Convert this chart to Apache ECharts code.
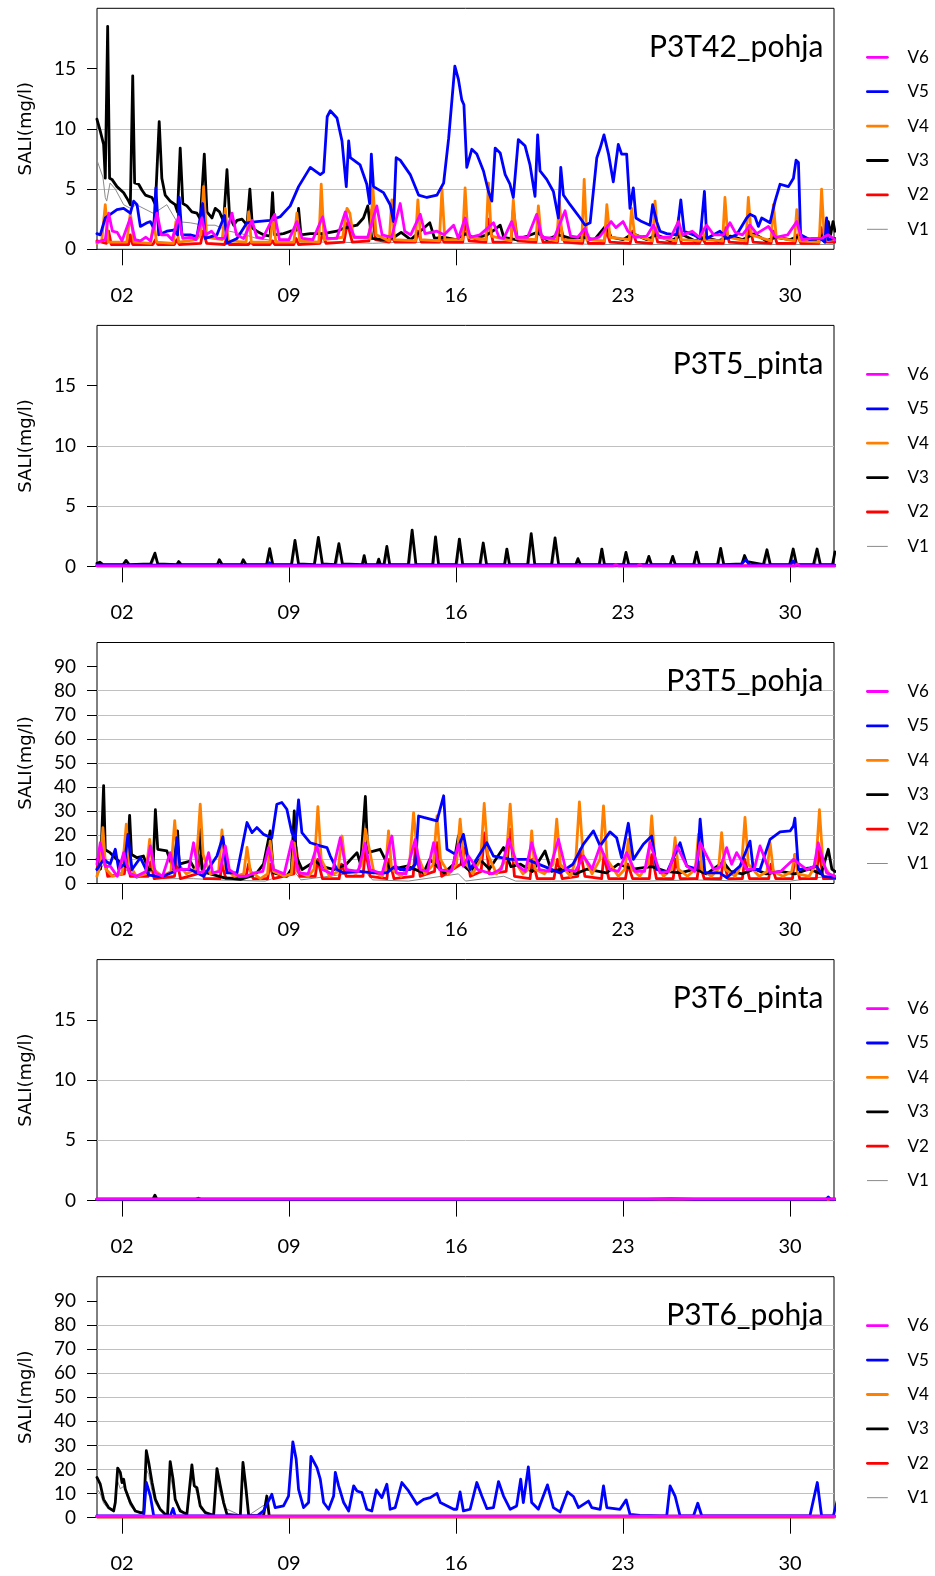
<!DOCTYPE html>
<html><head><meta charset="utf-8">
<script src="https://cdn.jsdelivr.net/npm/echarts@6/dist/echarts.min.js"></script>
<style>html,body{margin:0;padding:0;background:#fff}#c{width:935px;height:1576px}</style>
</head><body><div id="c"></div>
<script>
// ---------- labels / ticks ----------
const panelTitles = ['P3T42_pohja','P3T5_pinta','P3T5_pohja','P3T6_pinta','P3T6_pohja'];
const seriesNames = ['V1','V2','V3','V4','V5','V6'];
const legendOrder = ['V6','V5','V4','V3','V2','V1'];
const xTickDays = [2,9,16,23,30];
const yTicksSmall = [0,5,10,15];
const yTicksLarge = [0,10,20,30,40,50,60,70,80,90];
const yAxisTitle = 'SALI(mg/l)';

// ---------- panel 1: P3T42_pohja ----------
const p1V1 = [[0.95,7.4],[1.2,6.0],[1.3,4.3],[1.36,4.0],[1.5,5.5],[1.72,5.0],[2.07,3.7],[2.35,3.4],[2.6,3.7],[3.3,3.0],[3.5,3.2],[3.88,3.7],[4.3,2.3],[4.86,2.2],[5.4,2.0],[5.9,2.0],[6.5,1.5],[7.0,1.3],[7.65,0.9],[8.5,0.7],[9.5,0.6],[11,0.6],[12.5,0.5],[14,0.6],[16,0.5],[18,0.5],[20,0.5],[22,0.4],[24,0.4],[26,0.4],[28,0.4],[30,0.4],[31.9,0.4]];
const p1V2 = [[0.95,0.7],[1.35,0.5],[1.44,1.5],[1.55,0.4],[2.28,0.4],[2.35,1.2],[2.45,0.4],[3.3,0.4],[3.4,0.8],[3.5,0.4],[4.2,0.4],[4.3,0.8],[4.4,0.4],[5.3,0.5],[5.4,1.5],[5.55,0.5],[6.3,0.4],[6.4,1.0],[6.5,0.4],[7.3,0.4],[7.4,0.6],[7.5,0.4],[8.2,0.4],[8.3,0.7],[8.4,0.4],[9.2,0.4],[9.3,0.9],[9.4,0.4],[10.3,0.5],[10.4,1.3],[10.55,0.5],[11.3,0.6],[11.45,2.2],[11.65,0.6],[12.35,0.7],[12.47,3.3],[12.62,0.8],[13.2,0.6],[13.3,1.0],[13.45,0.6],[14.3,0.6],[14.4,1.5],[14.55,0.6],[15.3,0.6],[15.4,1.0],[15.5,0.6],[16.28,0.6],[16.38,2.3],[16.55,0.7],[17.25,0.6],[17.36,2.5],[17.55,0.6],[18.3,0.6],[18.4,3.3],[18.58,0.7],[19.35,0.6],[19.45,2.0],[19.65,0.6],[20.25,0.6],[20.35,2.2],[20.55,0.6],[21.3,0.5],[21.4,1.5],[21.55,0.5],[22.2,0.5],[22.3,1.6],[22.45,0.6],[23.3,0.5],[23.4,1.5],[23.55,0.6],[24.2,0.5],[24.3,1.8],[24.45,0.6],[25.2,0.5],[25.3,1.5],[25.45,0.5],[26.2,0.5],[26.3,1.0],[26.45,0.5],[27.2,0.5],[27.3,1.8],[27.45,0.6],[28.2,0.5],[28.3,2.0],[28.45,0.6],[29.2,0.5],[29.3,1.5],[29.45,0.5],[30.2,0.5],[30.3,1.2],[30.45,0.5],[31.2,0.5],[31.3,1.8],[31.45,0.6],[31.88,0.6]];
const p1V3 = [[0.95,10.8],[1.09,9.8],[1.23,8.7],[1.30,5.9],[1.40,18.5],[1.48,5.9],[1.58,5.8],[1.79,5.2],[2.07,4.7],[2.28,4.0],[2.35,3.7],[2.45,14.4],[2.53,5.5],[2.70,5.4],[2.84,4.9],[2.98,4.5],[3.26,4.3],[3.40,3.7],[3.56,10.6],[3.67,5.9],[3.81,4.5],[4.02,4.0],[4.23,3.7],[4.33,3.1],[4.44,8.4],[4.55,3.8],[4.72,3.6],[4.93,3.1],[5.14,3.0],[5.28,2.5],[5.45,7.9],[5.56,3.1],[5.77,2.6],[5.91,3.4],[6.09,3.1],[6.26,2.3],[6.40,6.6],[6.51,2.7],[6.68,2.0],[6.82,2.4],[7.03,2.5],[7.24,2.0],[7.36,5.0],[7.47,1.75],[7.65,1.5],[7.93,1.2],[8.21,1.1],[8.31,4.7],[8.40,1.2],[8.77,1.3],[9.05,1.5],[9.33,1.6],[9.40,3.4],[9.50,1.2],[9.89,1.3],[10.45,1.3],[11.0,1.5],[11.3,1.75],[11.85,2.0],[12.12,2.6],[12.30,3.6],[12.47,0.9],[12.96,0.8],[13.4,1.0],[13.7,1.4],[14.1,0.8],[14.5,1.5],[14.9,2.2],[15.1,0.9],[15.5,1.0],[16.0,0.8],[16.4,1.3],[16.8,0.9],[17.3,1.2],[17.6,1.6],[17.85,2.0],[18.0,1.0],[18.5,0.8],[19.0,1.1],[19.4,1.4],[19.8,0.8],[20.3,1.2],[20.8,0.9],[21.3,1.0],[21.8,0.8],[22.3,2.0],[22.5,1.0],[23.0,0.8],[23.4,1.3],[24.0,0.8],[24.4,1.2],[25.0,0.7],[25.5,1.2],[26.0,0.7],[26.4,1.0],[27.0,0.7],[27.5,1.1],[28.0,0.8],[28.5,1.3],[29.0,0.7],[29.4,1.0],[30.0,0.8],[30.4,1.1],[31.0,0.7],[31.4,1.2],[31.6,2.3],[31.7,1.2],[31.8,2.3],[31.88,1.5]];
const p1V4 = [[0.95,0.5],[1.15,0.7],[1.30,3.7],[1.42,0.6],[2.2,0.6],[2.35,3.0],[2.5,0.6],[3.2,0.5],[3.33,2.3],[3.45,0.6],[4.15,0.5],[4.26,2.3],[4.38,0.6],[5.1,0.8],[5.3,1.2],[5.42,5.2],[5.55,1.0],[6.2,0.8],[6.33,3.4],[6.45,0.7],[7.2,0.6],[7.31,3.1],[7.42,0.6],[8.2,0.6],[8.33,2.6],[8.45,0.6],[9.2,0.6],[9.33,3.0],[9.45,0.7],[10.25,0.6],[10.35,5.4],[10.47,0.8],[11.25,1.0],[11.43,3.4],[11.55,3.0],[11.7,1.0],[12.4,0.9],[12.52,5.0],[12.65,1.2],[13.2,0.7],[13.31,4.1],[13.42,0.8],[14.3,0.7],[14.4,4.1],[14.52,0.8],[15.3,0.7],[15.41,5.0],[15.53,0.8],[16.27,0.8],[16.38,5.1],[16.5,1.0],[17.25,0.8],[17.36,5.5],[17.48,1.1],[18.3,0.7],[18.4,4.1],[18.52,0.9],[19.35,0.8],[19.45,3.6],[19.57,1.0],[20.22,0.7],[20.33,4.0],[20.45,0.8],[21.27,0.7],[21.37,5.8],[21.48,0.8],[22.22,0.7],[22.32,3.7],[22.45,1.0],[23.26,0.8],[23.36,3.4],[23.48,1.2],[24.24,0.7],[24.34,4.0],[24.46,1.0],[25.22,0.7],[25.32,2.6],[25.44,0.8],[26.2,0.7],[26.3,1.9],[26.42,0.8],[27.17,0.7],[27.27,4.3],[27.39,1.0],[28.15,0.7],[28.25,4.3],[28.37,1.2],[29.2,0.7],[29.3,3.7],[29.42,1.0],[30.18,0.7],[30.28,3.3],[30.4,0.7],[31.22,0.6],[31.32,5.0],[31.44,0.7],[31.88,0.8]];
const p1V5 = [[0.95,1.3],[1.09,1.2],[1.30,2.6],[1.51,2.9],[1.79,3.3],[2.07,3.4],[2.35,3.0],[2.49,4.0],[2.63,3.7],[2.77,1.9],[3.05,2.2],[3.19,2.3],[3.33,1.75],[3.42,5.1],[3.54,1.2],[3.88,1.5],[4.16,1.6],[4.33,1.2],[4.40,4.3],[4.51,1.2],[4.86,1.2],[5.14,1.05],[5.38,3.8],[5.49,0.9],[5.98,1.2],[6.30,2.8],[6.40,0.5],[6.82,0.9],[7.24,2.2],[7.65,2.3],[8.21,2.4],[8.63,2.7],[9.05,3.6],[9.40,5.2],[9.89,6.8],[10.31,6.2],[10.45,6.4],[10.6,11.0],[10.73,11.5],[11.01,10.9],[11.22,9.0],[11.40,5.2],[11.50,9.0],[11.57,7.6],[11.98,7.0],[12.26,5.4],[12.38,3.8],[12.45,7.9],[12.54,5.2],[12.96,4.7],[13.24,3.7],[13.38,2.3],[13.49,7.6],[13.66,7.4],[14.08,6.2],[14.43,4.5],[14.78,4.3],[15.2,4.5],[15.48,5.5],[15.69,9.2],[15.95,15.2],[16.1,14.1],[16.24,12.4],[16.33,12.0],[16.45,6.8],[16.66,8.3],[16.87,7.9],[17.15,6.5],[17.36,4.8],[17.5,4.0],[17.64,8.4],[17.85,8.0],[18.06,6.2],[18.26,5.4],[18.4,4.3],[18.61,9.1],[18.89,8.6],[19.1,7.0],[19.31,4.4],[19.42,9.5],[19.52,6.5],[19.8,5.8],[20.08,4.8],[20.29,2.6],[20.39,6.8],[20.5,4.5],[20.78,3.7],[21.2,2.6],[21.41,2.0],[21.62,2.2],[21.9,7.6],[22.04,8.4],[22.2,9.5],[22.39,7.9],[22.59,5.6],[22.8,8.7],[22.94,7.9],[23.15,7.9],[23.29,3.4],[23.43,5.1],[23.54,2.6],[23.78,2.3],[24.13,2.0],[24.24,3.7],[24.41,2.3],[24.55,1.5],[24.83,1.3],[25.25,1.2],[25.42,4.1],[25.56,1.5],[25.95,1.2],[26.23,0.9],[26.41,4.8],[26.51,0.9],[27.06,1.5],[27.34,0.9],[27.76,1.2],[28.18,2.6],[28.32,2.9],[28.53,2.7],[28.67,1.9],[28.81,2.6],[29.16,2.2],[29.37,4.0],[29.58,5.4],[29.93,5.2],[30.14,5.9],[30.25,7.4],[30.35,7.2],[30.44,1.2],[30.83,0.8],[31.25,0.9],[31.46,0.6],[31.53,2.6],[31.6,0.8],[31.88,0.9]];
const p1V6 = [[0.95,0.6],[1.3,0.8],[1.44,3.0],[1.6,1.5],[1.8,1.4],[2.0,0.7],[2.35,2.6],[2.55,0.8],[2.77,0.7],[3.0,1.0],[3.2,0.7],[3.47,3.0],[3.65,1.2],[3.9,1.2],[4.1,0.8],[4.37,2.7],[4.55,0.9],[4.9,1.0],[5.1,0.8],[5.35,2.6],[5.5,1.2],[5.75,1.5],[6.0,0.9],[6.3,0.9],[6.61,3.0],[6.8,1.2],[7.1,0.9],[7.45,2.4],[7.65,1.0],[7.9,0.9],[8.4,2.9],[8.6,0.8],[9.0,0.8],[9.33,2.3],[9.55,0.9],[10.0,0.8],[10.41,2.7],[10.6,0.9],[11.0,0.9],[11.36,3.1],[11.55,1.9],[11.75,1.0],[12.3,1.0],[12.68,3.6],[12.9,1.2],[13.3,1.0],[13.66,3.8],[13.85,1.5],[14.1,1.2],[14.5,2.9],[14.7,1.3],[15.2,1.5],[15.5,1.2],[15.9,2.0],[16.1,0.9],[16.38,2.6],[16.6,1.0],[17.0,1.2],[17.57,2.2],[17.8,1.0],[18.0,0.9],[18.33,2.3],[18.55,1.0],[19.0,1.0],[19.38,2.9],[19.6,1.0],[20.1,0.9],[20.57,3.2],[20.8,1.1],[21.1,1.0],[21.41,1.75],[21.6,0.8],[22.0,1.0],[22.5,2.3],[22.7,1.8],[23.0,2.3],[23.2,1.5],[23.5,1.0],[24.0,1.1],[24.27,2.0],[24.5,1.0],[25.0,1.0],[25.32,2.3],[25.5,1.2],[25.9,1.5],[26.2,1.0],[26.5,2.0],[26.8,1.2],[27.2,1.2],[27.48,2.2],[27.7,1.4],[28.0,1.2],[28.32,2.0],[28.6,1.3],[29.09,1.9],[29.4,1.0],[29.9,1.2],[30.28,2.3],[30.5,0.8],[30.9,0.9],[31.3,0.9],[31.6,1.2],[31.88,0.8]];

// ---------- panel 2: P3T5_pinta ----------
const p2V1 = [[0.95,0.1],[3.25,0.1],[3.41,0.9],[3.55,0.1],[8.1,0.1],[8.22,1.2],[8.33,0.1],[9.15,0.1],[9.28,1.9],[9.4,0.1],[10.1,0.1],[10.26,2.1],[10.4,0.1],[11.0,0.1],[11.12,1.6],[11.25,0.1],[13.03,0.1],[13.13,1.4],[13.23,0.1],[14.06,0.1],[14.19,2.6],[14.32,0.1],[15.07,0.1],[15.17,2.1],[15.28,0.1],[16.06,0.1],[16.17,2.0],[16.29,0.1],[17.06,0.1],[17.17,1.7],[17.29,0.1],[18.07,0.1],[18.16,1.2],[18.25,0.1],[19.06,0.1],[19.18,2.4],[19.3,0.1],[20.06,0.1],[20.18,2.0],[20.3,0.1],[22.05,0.1],[22.14,1.2],[22.23,0.1],[23.06,0.1],[23.15,1.0],[23.25,0.1],[26.02,0.1],[26.11,1.0],[26.2,0.1],[27.02,0.1],[27.12,1.3],[27.22,0.1],[28.95,0.1],[29.06,1.2],[29.17,0.1],[30.05,0.1],[30.16,1.25],[30.28,0.1],[31.05,0.1],[31.16,1.25],[31.28,0.1],[31.88,0.1]];
const p2V2 = [[0.95,0.05],[31.88,0.05]];
const p2V3 = [[0.95,0.25],[1.07,0.35],[1.2,0.15],[2.05,0.15],[2.17,0.5],[2.3,0.15],[3.2,0.2],[3.38,1.1],[3.5,0.2],[4.3,0.15],[4.38,0.4],[4.48,0.15],[5.1,0.15],[5.18,0.3],[5.28,0.15],[6.0,0.15],[6.08,0.55],[6.2,0.15],[7.0,0.15],[7.08,0.55],[7.2,0.15],[8.06,0.15],[8.19,1.47],[8.32,0.15],[9.1,0.15],[9.25,2.16],[9.4,0.2],[10.06,0.15],[10.23,2.41],[10.4,0.2],[10.93,0.15],[11.09,1.88],[11.24,0.2],[12.07,0.15],[12.15,0.9],[12.23,0.15],[12.69,0.15],[12.76,0.6],[12.83,0.15],[12.98,0.15],[13.1,1.66],[13.22,0.15],[14.0,0.15],[14.16,3.0],[14.32,0.15],[15.02,0.15],[15.14,2.44],[15.27,0.15],[16.0,0.15],[16.14,2.27],[16.28,0.15],[17.0,0.15],[17.14,1.94],[17.28,0.15],[18.03,0.15],[18.13,1.44],[18.24,0.15],[19.0,0.15],[19.15,2.72],[19.3,0.15],[20.0,0.15],[20.15,2.36],[20.3,0.15],[21.02,0.15],[21.11,0.64],[21.21,0.15],[22.0,0.15],[22.11,1.44],[22.22,0.15],[23.01,0.15],[23.12,1.16],[23.24,0.15],[23.97,0.15],[24.08,0.83],[24.19,0.15],[24.97,0.15],[25.08,0.83],[25.19,0.15],[25.96,0.15],[26.08,1.19],[26.2,0.15],[26.96,0.15],[27.09,1.5],[27.22,0.15],[27.98,0.2],[28.09,0.9],[28.2,0.4],[28.88,0.15],[29.03,1.38],[29.17,0.15],[29.98,0.15],[30.13,1.44],[30.27,0.15],[30.98,0.15],[31.13,1.44],[31.27,0.15],[31.78,0.15],[31.88,1.2]];
const p2V4 = [[0.95,0.05],[14.2,0.05],[14.3,0.1],[14.4,0.05],[31.88,0.05]];
const p2V5 = [[0.95,0.1],[6.0,0.1],[6.08,0.25],[6.2,0.1],[8.1,0.1],[8.19,0.3],[8.3,0.1],[27.9,0.1],[28.15,0.55],[28.3,0.1],[30.0,0.1],[30.13,0.45],[30.25,0.1],[31.88,0.1]];
const p2V6 = [[0.95,0.05],[22.6,0.05],[22.7,0.15],[22.8,0.05],[23.6,0.05],[23.7,0.15],[23.8,0.05],[30.2,0.05],[30.3,0.2],[30.4,0.05],[31.88,0.05]];

// ---------- panel 3: P3T5_pohja ----------
const p3V1 = [[0.95,3],[1.23,8],[1.5,3],[2.32,6],[2.6,2],[3.4,6],[3.7,2],[5,2],[6,1.5],[8,1],[9.22,5],[9.5,1.5],[12.2,5],[12.5,1.5],[14,1],[16.1,4],[16.4,1],[18,3],[18.5,1],[20,1],[22,1],[24,1],[26,1.5],[28,1],[30,1],[31.6,3],[31.88,1]];
const p3V2 = [[0.95,6],[1.2,15],[1.4,3],[2.1,4],[2.2,12],[2.35,3],[3.1,3],[3.2,9],[3.35,2],[4.2,3],[4.3,10],[4.45,2],[5.15,4],[5.3,12],[5.45,2],[6.1,2],[6.2,8],[6.35,2],[7.2,3],[7.3,8],[7.5,2],[8.1,2],[8.2,8],[8.35,2],[9.2,4],[9.3,15],[9.45,3],[10.1,3],[10.2,10],[10.4,2],[11.1,2],[11.2,8],[11.4,3],[12.1,3],[12.2,14],[12.4,3],[13.1,2],[13.2,10],[13.4,2],[14.2,3],[14.3,15],[14.5,3],[15.1,5],[15.2,17],[15.4,3],[16.2,8],[16.4,15],[16.6,3],[17.05,5],[17.2,21],[17.4,4],[18.1,5],[18.27,22.5],[18.45,3],[19.1,2],[19.2,10],[19.4,2],[20.1,2],[20.25,10],[20.45,2],[21.1,3],[21.2,14],[21.4,3],[22.1,2],[22.2,12],[22.4,2],[23.1,2],[23.2,8],[23.4,2],[24.1,2],[24.2,12],[24.4,2],[25.1,2],[25.2,10],[25.4,2],[26.1,2],[26.2,9],[26.4,2],[27.1,2],[27.2,10],[27.4,2],[28.0,2],[28.1,10],[28.3,2],[29.1,2],[29.2,8],[29.4,2],[30.1,2],[30.2,12],[30.4,2],[31.1,2],[31.2,14],[31.4,2],[31.88,2]];
const p3V3 = [[0.95,10],[1.1,6],[1.23,40.6],[1.3,14],[1.5,12.8],[1.79,10],[2.0,8],[2.2,7],[2.32,28.3],[2.4,12],[2.63,10.7],[2.9,11.4],[3.1,5.8],[3.3,6],[3.4,30.6],[3.5,14.2],[3.88,13.5],[4.16,5.8],[4.33,21.8],[4.4,8],[4.86,9.3],[5.1,5],[5.25,22.8],[5.35,6],[5.56,4.4],[6.26,2.4],[6.96,1.7],[7.4,3],[7.65,4.4],[7.93,8],[8.21,21.8],[8.35,4.4],[8.91,3],[9.1,6],[9.22,30.1],[9.3,11.4],[9.55,5.8],[10.1,9.3],[10.4,7],[10.9,5.8],[11.4,8],[11.85,12.8],[12.0,8],[12.2,36.1],[12.3,12.8],[12.82,14.2],[13.24,5.8],[13.94,7.2],[14.64,4.4],[14.9,10],[15.5,4.4],[15.9,8],[16.1,19.7],[16.25,8],[16.6,5],[17.0,10],[17.4,6],[17.99,14.9],[18.3,7],[18.7,8],[19.2,5],[19.73,13.5],[20.0,5],[20.4,6],[21.0,4],[21.5,6],[22.3,4.4],[22.8,8],[23.4,6],[24.2,7],[24.8,5],[25.4,4.4],[26.0,6],[26.5,4],[27.2,9],[27.5,5],[28.0,4],[28.5,6],[29.0,4],[29.6,5],[30.2,4],[30.8,6],[31.3,4],[31.6,14.2],[31.75,6],[31.88,5]];
const p3V4 = [[0.95,3],[1.1,8],[1.2,23.2],[1.32,6],[1.6,3],[2.0,4],[2.18,24.6],[2.3,8],[2.6,3],[3.0,4],[3.16,18.3],[3.3,6],[3.7,3],[4.05,5],[4.21,26.1],[4.35,8],[4.7,4],[5.1,6],[5.28,32.9],[5.4,12],[5.7,4],[6.05,5],[6.19,22.2],[6.33,6],[6.7,3],[7.1,4],[7.24,15],[7.38,5],[7.8,2],[8.1,4],[8.21,17.6],[8.35,5],[8.8,3],[9.1,4],[9.22,16.9],[9.35,5],[9.8,3],[10.05,6],[10.21,31.9],[10.35,10],[10.7,3],[11.05,5],[11.22,19.7],[11.38,6],[11.8,4],[12.05,8],[12.2,22.5],[12.35,15],[12.55,5],[12.9,3],[13.05,6],[13.17,21.8],[13.3,6],[13.7,3],[14.05,8],[14.22,29.4],[14.38,12],[14.7,4],[15.05,8],[15.2,28],[15.35,10],[15.7,4],[16.02,8],[16.17,26.7],[16.32,10],[16.7,4],[17.03,10],[17.18,33.2],[17.33,12],[17.7,4],[18.1,10],[18.27,32.9],[18.42,10],[18.8,4],[19.05,6],[19.17,21.8],[19.3,6],[19.7,4],[20.07,8],[20.22,26.7],[20.37,8],[20.8,3],[21.02,10],[21.17,33.9],[21.32,12],[21.7,4],[22.03,10],[22.18,32.2],[22.33,10],[22.8,3],[23.08,6],[23.22,18.3],[23.36,6],[23.7,3],[24.05,8],[24.2,28],[24.35,8],[24.7,3],[25.05,6],[25.18,19],[25.32,6],[25.7,3],[26.03,6],[26.16,20.4],[26.3,6],[26.7,3],[27.0,6],[27.13,21.1],[27.27,6],[27.7,3],[27.97,8],[28.11,27.4],[28.25,8],[28.7,3],[29.03,5],[29.16,16.9],[29.3,5],[29.7,3],[30.07,5],[30.2,12],[30.33,4],[30.8,3],[31.08,8],[31.23,30.6],[31.38,8],[31.7,3],[31.88,3]];
const p3V5 = [[0.95,5.8],[1.23,10],[1.5,8],[1.72,14.2],[1.86,6],[2.1,8],[2.25,20.4],[2.42,5.8],[2.77,10.7],[3.12,3.5],[3.67,2.8],[4.2,5],[4.3,19],[4.44,5.8],[4.86,5.8],[5.42,3],[5.98,11.4],[6.23,19.4],[6.4,4.4],[6.82,4.4],[7.24,25.3],[7.45,21.1],[7.65,23.2],[7.93,20.4],[8.28,19],[8.49,32.9],[8.7,33.6],[8.91,30.8],[9.12,21.1],[9.26,18.3],[9.4,34.7],[9.54,21.1],[9.89,16.9],[10.31,15.6],[10.59,14.9],[10.73,11.4],[11.01,5.8],[11.29,4.4],[11.85,5.1],[12.54,4.4],[13.1,4.4],[13.45,7.2],[13.66,5.8],[14.08,5.8],[14.3,8],[14.43,28],[14.64,27.4],[15.2,26],[15.48,36.4],[15.62,14.2],[15.98,12.1],[16.31,20.4],[16.59,5.8],[17.29,16.9],[17.57,11.4],[18.27,10],[18.96,10],[19.66,7.2],[20.36,4.4],[20.9,8],[21.34,16.3],[21.76,21.8],[22.04,15.6],[22.45,21.4],[22.73,19],[22.94,10.7],[23.22,25],[23.43,10],[23.85,16.3],[24.2,19.7],[24.41,5.8],[24.83,4.4],[25.39,16.9],[25.67,7.2],[26.1,6],[26.23,26.7],[26.43,4.4],[27.06,4.4],[27.34,2.4],[27.9,7.2],[28.32,17.6],[28.46,5.8],[28.74,5.8],[29.16,18.3],[29.58,21.4],[30.0,21.8],[30.14,23.9],[30.2,27.1],[30.35,5.8],[30.83,6.5],[31.11,7.2],[31.39,3],[31.88,2.4]];
const p3V6 = [[0.95,8],[1.09,16.9],[1.3,7],[1.51,7.2],[1.8,3],[2.07,12.8],[2.3,4.4],[2.6,3],[3.0,5],[3.19,15.6],[3.4,4.4],[3.7,3],[4.02,12.8],[4.2,5],[4.44,5.8],[4.8,6],[5.0,16.9],[5.2,4.4],[5.42,5],[5.63,12.8],[5.8,4.4],[6.1,5],[6.33,15.6],[6.5,5.8],[6.9,3],[7.2,3],[7.55,4.4],[7.9,5],[8.14,14.9],[8.35,5.8],[8.8,4],[9.12,17.6],[9.4,4.4],[9.8,4],[10.17,15.6],[10.4,5.8],[10.8,4],[11.15,19],[11.4,5.8],[11.9,5],[12.19,16.7],[12.4,5.8],[12.9,4],[13.31,19.7],[13.5,4.4],[13.9,4],[14.29,18.3],[14.5,5.8],[14.8,5],[15.06,16.9],[15.3,5.8],[15.8,5],[16.1,16.3],[16.3,7.2],[16.52,11.4],[16.9,5.8],[17.5,4],[17.9,6],[18.2,18.3],[18.6,7.2],[18.9,5],[19.17,16.9],[19.5,5.8],[19.9,5],[20.29,18.3],[20.6,5.8],[21.0,5],[21.34,11.4],[21.7,6],[22.04,15.6],[22.45,5.8],[22.8,5],[23.15,12.8],[23.5,5],[23.9,5],[24.13,16.9],[24.55,4.4],[24.9,5],[25.25,15.6],[25.67,7.2],[26.0,5],[26.23,16.9],[26.8,5.8],[27.1,7],[27.34,14.9],[27.55,8],[27.76,12.8],[28.18,5.8],[28.5,6],[28.74,15.6],[29.16,4.4],[29.6,5],[30.14,10],[30.7,5.8],[31.0,7],[31.18,16.9],[31.53,4.4],[31.88,3]];

// ---------- panel 4: P3T6_pinta ----------
const p4V1 = [[0.95,0.1],[31.88,0.1]];
const p4V2 = [[0.95,0.1],[31.88,0.1]];
const p4V3 = [[0.95,0.12],[3.3,0.12],[3.38,0.45],[3.46,0.12],[5.1,0.12],[5.2,0.2],[5.3,0.12],[8.15,0.12],[8.22,0.25],[8.3,0.12],[31.88,0.12]];
const p4V4 = [[0.95,0.1],[31.88,0.1]];
const p4V5 = [[0.95,0.1],[24.0,0.1],[25.0,0.15],[26.0,0.1],[31.5,0.1],[31.6,0.3],[31.7,0.1],[31.88,0.1]];
const p4V6 = [[0.95,0.15],[31.88,0.15]];

// ---------- panel 5: P3T6_pohja ----------
const p5V1 = [[0.95,12],[1.09,10],[1.23,6],[1.44,3.5],[1.65,2.5],[1.82,15],[1.93,12],[2.07,13],[2.21,9],[2.35,5],[2.56,2.5],[2.91,2],[3.02,20],[3.12,18],[3.26,11],[3.4,6],[3.6,3],[3.91,1.2],[4.02,18],[4.14,12],[4.3,5],[4.72,1.2],[4.93,17],[5.14,10],[5.3,3.5],[5.84,1.0],[5.98,16],[6.12,10],[6.3,4],[6.96,1.0],[7.07,18],[7.2,10],[7.31,1.0],[8.07,6],[8.2,0.6],[31.88,0.5]];
const p5V2 = [[0.95,0.4],[31.88,0.4]];
const p5V3 = [[0.95,16.7],[1.09,13.9],[1.23,7.6],[1.44,4.2],[1.65,2.8],[1.72,6.3],[1.82,20.6],[1.93,18.8],[2.0,14.6],[2.07,16],[2.14,11.8],[2.21,11.8],[2.35,6.3],[2.56,2.8],[2.77,2.1],[2.91,2.1],[3.02,27.8],[3.12,22.9],[3.26,14.6],[3.4,7.6],[3.6,3.5],[3.81,1.4],[3.91,1.4],[4.02,23.3],[4.14,16],[4.23,7.6],[4.44,2.8],[4.72,1.4],[4.93,21.9],[5.03,13.2],[5.14,12.5],[5.28,4.9],[5.49,2.1],[5.84,1.0],[5.98,20.4],[6.12,13.2],[6.26,6.3],[6.4,1.4],[6.82,1.0],[6.96,1.0],[7.07,22.9],[7.17,14.6],[7.31,1.0],[7.93,0.7],[8.07,9],[8.17,0.7],[8.3,0.6],[31.88,0.6]];
const p5V4 = [[0.95,0.4],[31.88,0.4]];
const p5V5 = [[0.95,0.7],[2.91,0.7],[3.02,14.6],[3.19,9],[3.33,0.7],[4.02,0.7],[4.14,3.8],[4.23,0.7],[7.65,0.7],[7.93,2.8],[8.28,9.7],[8.42,4.2],[8.77,4.9],[8.98,9],[9.16,31.5],[9.3,24.3],[9.4,11.8],[9.61,4.2],[9.82,6.3],[9.92,25.4],[10.17,20.8],[10.31,16],[10.45,6.3],[10.66,3.5],[10.87,9],[10.94,18.8],[11.08,13.2],[11.29,6.3],[11.5,2.8],[11.71,13.2],[11.85,11.1],[12.05,10.4],[12.26,3.5],[12.47,2.8],[12.66,11.5],[12.89,8.3],[13.1,13.9],[13.24,3.5],[13.45,4.2],[13.73,14.6],[14.01,11.1],[14.36,5.6],[14.64,7.6],[14.92,8.3],[15.2,10.1],[15.34,6.3],[15.9,3.5],[16.03,3.5],[16.17,10.7],[16.31,2.8],[16.59,3.5],[16.87,14.6],[17.08,9],[17.29,3.8],[17.57,4.2],[17.78,15],[17.99,9],[18.27,3.5],[18.54,4.9],[18.71,16],[18.82,6.3],[19.03,21.1],[19.17,6.3],[19.45,3.5],[19.83,13.6],[20.08,4.2],[20.36,2.4],[20.67,10.7],[20.92,8.8],[21.13,4.2],[21.55,6.9],[21.69,4.2],[22.04,3.5],[22.18,13.2],[22.32,4.2],[22.87,3.5],[23.13,7.4],[23.29,1.4],[23.71,1.0],[24.55,0.7],[24.83,0.8],[24.97,13.2],[25.18,9],[25.39,0.7],[25.95,0.7],[26.13,6],[26.3,0.7],[30.83,0.7],[31.14,14.6],[31.32,0.7],[31.81,0.7],[31.99,7.6]];
const p5V6 = [[0.95,0.6],[31.88,0.6]];

// ---------- assemble ----------
const panelData = [
  {V1:p1V1,V2:p1V2,V3:p1V3,V4:p1V4,V5:p1V5,V6:p1V6},
  {V1:p2V1,V2:p2V2,V3:p2V3,V4:p2V4,V5:p2V5,V6:p2V6},
  {V1:p3V1,V2:p3V2,V3:p3V3,V4:p3V4,V5:p3V5,V6:p3V6},
  {V1:p4V1,V2:p4V2,V3:p4V3,V4:p4V4,V5:p4V5,V6:p4V6},
  {V1:p5V1,V2:p5V2,V3:p5V3,V4:p5V4,V5:p5V5,V6:p5V6}
];
const panelYTicks = [yTicksSmall, yTicksSmall, yTicksLarge, yTicksSmall, yTicksLarge];
const panelYMax = [20, 20, 100, 20, 100];
const panelYStep = [5, 5, 10, 5, 10];
const colors = {V1:'#8a8a8a',V2:'#ff0000',V3:'#000000',V4:'#ff8000',V5:'#0000ff',V6:'#ff00ff'};

const FONT = 'Lato';
const option = {animation:false, backgroundColor:'#fff', grid:[], xAxis:[], yAxis:[], title:[], legend:[], series:[]};
const PITCH = 317.1;
panelData.forEach((pd, k) => {
  const top = 8.3 + PITCH*k;
  option.grid.push({left:97, top:top, width:737, height:241, show:true, borderColor:'#000', borderWidth:1, backgroundColor:'transparent'});
  option.xAxis.push({type:'value', gridIndex:k, min:0.953, max:31.84,
    axisLine:{show:false}, splitLine:{show:false},
    axisTick:{show:true, customValues:xTickDays, length:16, lineStyle:{color:'#000', width:1}},
    axisLabel:{customValues:xTickDays, formatter:v => String(v).padStart(2,'0'), margin:36, fontSize:20, color:'#000', fontFamily:FONT}});
  option.yAxis.push({type:'value', gridIndex:k, min:0, max:panelYMax[k], interval:panelYStep[k],
    name:yAxisTitle, nameLocation:'middle', nameGap:62,
    nameTextStyle:{fontSize:18, fontFamily:'DejaVu Sans', color:'#000'},
    axisLine:{show:false},
    axisTick:{show:true, customValues:panelYTicks[k], length:10, lineStyle:{color:'#000', width:1}},
    axisLabel:{customValues:panelYTicks[k], margin:21, fontSize:19, color:'#000', fontFamily:FONT},
    splitLine:{show:true, showMinLine:false, showMaxLine:false, lineStyle:{color:'#c0c0c0', width:1}}});
  option.title.push({text:panelTitles[k], right:111.7, top:32 + PITCH*k, padding:0,
    textStyle:{fontSize:30, fontWeight:'normal', fontFamily:FONT, color:'#000'}});
  option.legend.push({data:legendOrder, orient:'vertical', left:866, top:48.3 + PITCH*k, padding:0,
    itemWidth:20, itemHeight:3, itemGap:16.4, selectedMode:false,
    itemStyle:{opacity:0},
    lineStyle:{width:'inherit'},
    textStyle:{fontSize:17, fontFamily:FONT, color:'#000', padding:[0,0,0,15], lineHeight:18}});
  seriesNames.forEach(n => {
    option.series.push({type:'line', name:n, xAxisIndex:k, yAxisIndex:k, data:pd[n],
      symbol:'none', showSymbol:false, silent:true,
      lineStyle:{color:colors[n], width:n === 'V1' ? 1 : 2.8, join:'round', cap:'round'},
      itemStyle:{color:colors[n]}});
  });
});
const chart = echarts.init(document.getElementById('c'), null, {renderer:'canvas'});
chart.setOption(option);
</script>
</body></html>
